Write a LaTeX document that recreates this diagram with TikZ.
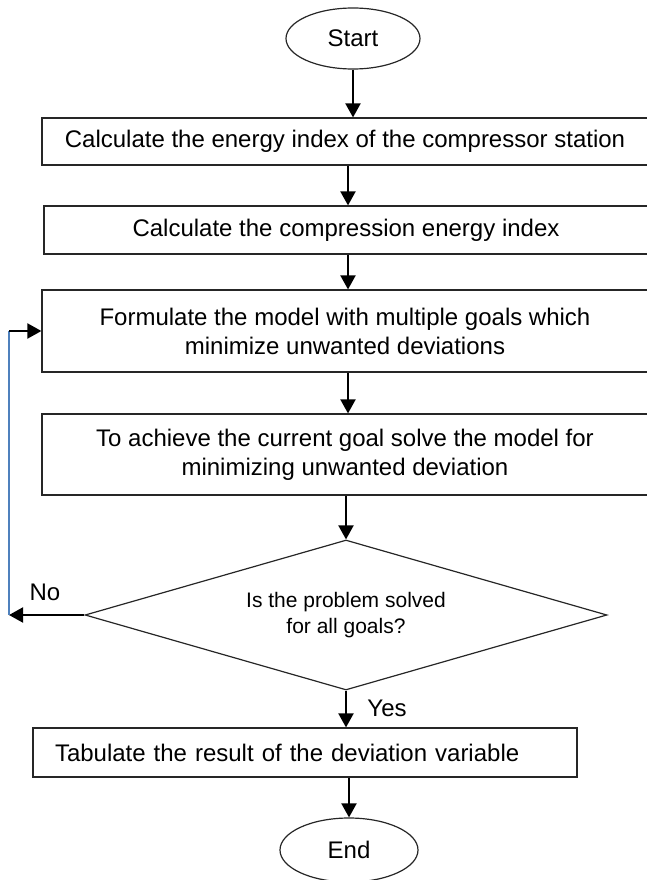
\documentclass[tikz,border=0pt]{standalone}
\usepackage{fontspec}
\setmainfont{Liberation Sans}
\usetikzlibrary{shapes.geometric,arrows.meta}
\begin{document}
\begin{tikzpicture}[x=1pt, y=-1pt,
    box/.style={draw=black!85, line width=1.2pt, rectangle, inner sep=0pt,
      font=\fontsize{24}{29}\selectfont, align=center},
    term/.style={draw=black!85, line width=1.2pt, ellipse, inner sep=0pt,
      minimum width=134, minimum height=61, font=\fontsize{24}{29}\selectfont},
    decision/.style={draw=black!85, line width=1.2pt, diamond, aspect=3.48, inner sep=0pt,
      minimum width=522, minimum height=150, font=\fontsize{21}{26}\selectfont, align=center},
    lbl/.style={inner sep=0pt, font=\fontsize{24}{29}\selectfont},
    flow/.style={line width=2pt, -{Triangle[length=14pt, width=15pt]}},
    loopline/.style={line width=1.6pt, color=loop-blue}]
    \definecolor{loop-blue}{RGB}{79,129,189}
    \useasboundingbox (0,0) rectangle (646,880);
    \node[term] (start) at (353,38.5) {Start};
    \node[box, minimum width=606, minimum height=47] (energy) at (345,141.5)
      {Calculate the energy index of the compressor station};
    \node[box, minimum width=604, minimum height=48] (compr) at (346,230)
      {Calculate the compression energy index};
    \node[box, minimum width=606, minimum height=82] (model) at (345,331)
      {Formulate the model with multiple goals which\\minimize unwanted deviations};
    \node[box, minimum width=606, minimum height=81] (solve) at (345,454.5)
      {To achieve the current goal solve the model for\\minimizing unwanted deviation};
    \node[decision] (check) at (346,615) {Is the problem solved\\for all goals?};
    \node[box, text width=500, inner xsep=22, minimum height=49, align=left] (tab) at (305,752.5)
      {Tabulate the result of the deviation variable};
    \node[term, minimum width=138, minimum height=64] (end) at (349,850) {End};
    \node[lbl] (no) at (45,592) {No};
    \node[lbl] (yes) at (387,708) {Yes};
    \coordinate (axis) at (348,0);
    \coordinate (back) at (9,615);
    \draw[flow] (start.south) -- (start.south |- energy.north);
    \draw[flow] (energy.south -| axis) -- (compr.north -| axis);
    \draw[flow] (compr.south -| axis) -- (model.north -| axis);
    \draw[flow] (model.south -| axis) -- (solve.north -| axis);
    \draw[flow] (solve.south -| check.north) -- (check.north);
    \draw[flow] (check.south) -- (check.south |- tab.north);
    \draw[flow] (tab.south -| end.north) -- (end.north);
    \draw[flow] (check.west) -- (back);
    \draw[loopline] (back) -- (back |- model.west);
    \draw[flow] (back |- model.west) -- (model.west);
\end{tikzpicture}
\end{document}
